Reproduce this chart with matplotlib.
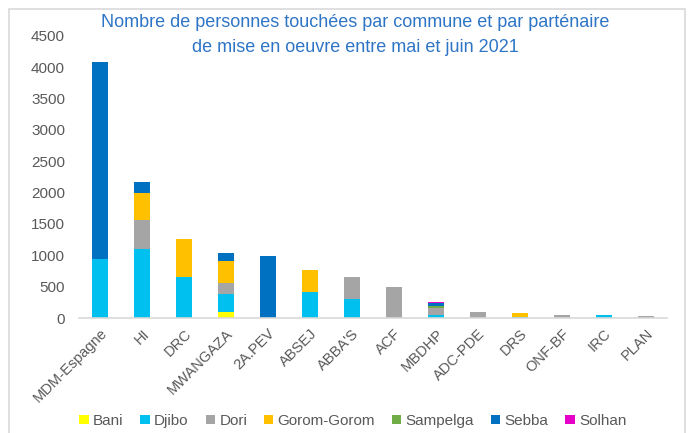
import matplotlib
matplotlib.use("Agg")
import matplotlib.pyplot as plt
import numpy as np
from matplotlib.patches import Rectangle

plt.rcParams['font.family'] = ['Liberation Sans', 'DejaVu Sans']

categories = ["MDM-Espagne", "HI", "DRC", "MWANGAZA", "2A.PEV", "ABSEJ", "ABBA'S",
              "ACF", "MBDHP", "ADC-PDE", "DRS", "ONF-BF", "IRC", "PLAN"]
series_names = ["Bani", "Djibo", "Dori", "Gorom-Gorom", "Sampelga", "Sebba", "Solhan"]
bani     = [0,    0,    0,   100, 0,   0,   0,   0,   0,   0,   0,  0,  0,  0]
djibo    = [940,  1100, 655, 285, 0,   410, 300, 0,   48,  0,   15, 0,  40, 0]
dori     = [0,    465,  0,   175, 0,   0,   355, 490, 112, 100, 0,  55, 0,  25]
gorom    = [0,    430,  605, 350, 0,   355, 0,   0,   0,   0,   65, 0,  0,  0]
sampelga = [0,    0,    0,   0,   0,   0,   0,   0,   32,  0,   0,  0,  0,  0]
sebba    = [3145, 175,  0,   130, 990, 0,   0,   0,   43,  0,   0,  0,  0,  0]
solhan   = [0,    0,    0,   0,   0,   0,   0,   0,   18,  0,   0,  0,  0,  0]
series = [bani, djibo, dori, gorom, sampelga, sebba, solhan]
colors = ["#FFFF00", "#00C0F0", "#A5A5A5", "#FFC000", "#70AD47", "#0070C0", "#E600C8"]
yticks = [0, 500, 1000, 1500, 2000, 2500, 3000, 3500, 4000, 4500]
title = "Nombre de personnes touchées par commune et par parténaire\nde mise en oeuvre entre mai et juin 2021"

W, H = 691, 433
fig = plt.figure(figsize=(W/100, H/100), dpi=100)
ax = fig.add_axes([79/W, 1-318/H, (667-79)/W, (318-36)/H])

x = np.arange(len(categories))
bottom = np.zeros(len(categories))
for name, vals, c in zip(series_names, series, colors):
    v = np.array(vals, dtype=float)
    ax.bar(x, v, 0.4, bottom=bottom, color=c, label=name, linewidth=0)
    bottom += v

ax.set_xlim(-0.5, len(categories)-0.5)
ax.set_ylim(0, 4500)
ax.set_yticks(yticks)
ax.set_yticklabels([str(t) for t in yticks], fontsize=11, color="#595959")
ax.set_xticks(x)
ax.set_xticklabels(categories, rotation=45, ha="right", rotation_mode="anchor",
                   fontsize=10.5, color="#595959")
ax.tick_params(axis='both', length=0)
ax.tick_params(axis='y', pad=10)
ax.tick_params(axis='x', pad=6)
for s in ["top", "right", "left"]:
    ax.spines[s].set_visible(False)
ax.spines["bottom"].set_color("#D9D9D9")
ax.spines["bottom"].set_linewidth(1.2)

fig.text(355/W, 1-35/H, title, ha="center", va="center", fontsize=13,
         color="#2E75C6", linespacing=1.6)

leg = fig.legend(loc="center", bbox_to_anchor=(353/W, 1-421/H), ncol=7, frameon=False,
                 fontsize=11, handlelength=0.6, handleheight=0.6, handletextpad=0.3,
                 columnspacing=1.1, labelcolor="#595959", borderpad=0)

fig.patches.append(Rectangle((9/W, -0.05), (685-9)/W, 1.05-9/H, transform=fig.transFigure,
                             fill=False, edgecolor="#D9D9D9", linewidth=1.2))

fig.savefig("out.png", dpi=100)
